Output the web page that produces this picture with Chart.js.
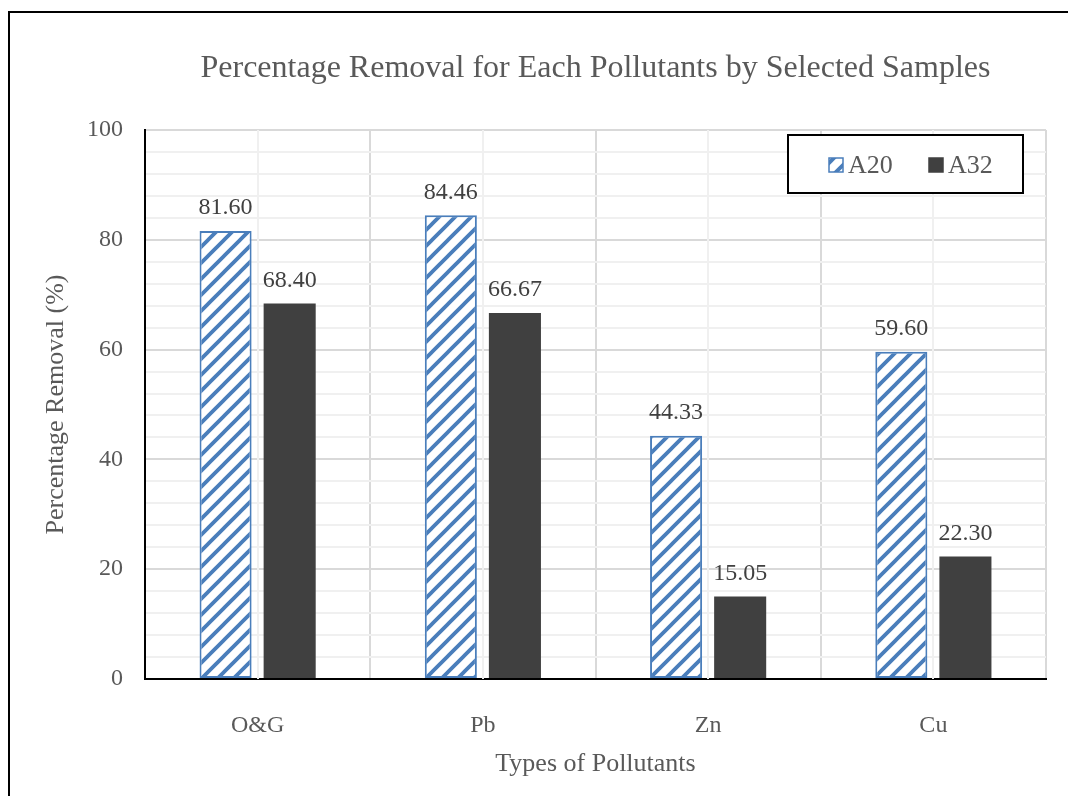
<!DOCTYPE html>
<html>
<head>
<meta charset="utf-8">
<title>Percentage Removal for Each Pollutants by Selected Samples</title>
<script src="https://cdn.jsdelivr.net/npm/chart.js@4/dist/chart.umd.min.js"></script>
<style>
  html, body { margin: 0; padding: 0; background: #ffffff; }
  #wrap { position: relative; width: 1068px; height: 796px; }
</style>
</head>
<body>
<div id="wrap"><canvas id="chart" width="1068" height="796"></canvas></div>
<script>
// Pollutant categories and removal percentages per sample
const categories = ['O&G', 'Pb', 'Zn', 'Cu'];
const seriesNames = ['A20', 'A32'];
const a20Values = [81.60, 84.46, 44.33, 59.60];
const a32Values = [68.40, 66.67, 15.05, 22.30];
const yTickValues = [0, 20, 40, 60, 80, 100];

const chartTitle = 'Percentage Removal for Each Pollutants by Selected Samples';
const xTitle = 'Types of Pollutants';
const yTitle = 'Percentage Removal (%)';

const FONT = '"Liberation Serif", "Times New Roman", serif';
const TEXT = '#595959';
const BLUE = '#4A7EBB';
const DARK = '#404040';

// Upward diagonal hatch used for the A20 bars
function makeHatch() {
  const size = 16;
  const c = document.createElement('canvas');
  c.width = size; c.height = size;
  const g = c.getContext('2d');
  g.fillStyle = '#ffffff';
  g.fillRect(0, 0, size, size);
  g.strokeStyle = BLUE;
  g.lineWidth = 3.8;
  g.lineCap = 'square';
  g.beginPath();
  g.moveTo(-4, size + 4); g.lineTo(size + 4, -4);
  g.moveTo(-4, 4); g.lineTo(4, -4);
  g.moveTo(size - 4, size + 4); g.lineTo(size + 4, size - 4);
  g.stroke();
  return g.createPattern(c, 'repeat');
}
const hatch = makeHatch();

// Frame, title, minor vertical grid, value labels and boxed legend
const decorations = {
  id: 'decorations',
  beforeDraw(chart) {
    const ctx = chart.ctx;
    ctx.save();
    ctx.strokeStyle = '#000000';
    ctx.lineWidth = 2;
    ctx.strokeRect(9, 12, chart.width + 40, chart.height + 40);
    ctx.restore();
  },
  beforeDatasetsDraw(chart) {
    const ctx = chart.ctx;
    const area = chart.chartArea;
    const x = chart.scales.x;
    ctx.save();
    ctx.strokeStyle = '#f0f0f0';
    ctx.lineWidth = 2;
    for (let i = 0; i < categories.length; i++) {
      const px = Math.round(x.getPixelForValue(i));
      ctx.beginPath();
      ctx.moveTo(px, area.top);
      ctx.lineTo(px, area.bottom);
      ctx.stroke();
    }
    ctx.restore();
  },
  afterDatasetsDraw(chart) {
    const ctx = chart.ctx;
    const area = chart.chartArea;
    ctx.save();
    // value labels
    ctx.font = '24px ' + FONT;
    ctx.fillStyle = DARK;
    ctx.textAlign = 'center';
    ctx.textBaseline = 'middle';
    chart.data.datasets.forEach((ds, di) => {
      const meta = chart.getDatasetMeta(di);
      meta.data.forEach((bar, i) => {
        ctx.fillText(ds.data[i].toFixed(2), bar.x, bar.y - 23);
      });
    });
    // title, centred over the plot area
    ctx.font = '32px ' + FONT;
    ctx.fillStyle = TEXT;
    ctx.fillText(chartTitle, (area.left + area.right) / 2, 69);
    // legend box
    const bx = 788, by = 135, bw = 235, bh = 58;
    ctx.fillStyle = '#ffffff';
    ctx.fillRect(bx, by, bw, bh);
    ctx.strokeStyle = '#000000';
    ctx.lineWidth = 2;
    ctx.strokeRect(bx, by, bw, bh);
    ctx.font = '26px ' + FONT;
    ctx.textAlign = 'left';
    const items = [
      { x: 829, fill: hatch, stroke: BLUE },
      { x: 929, fill: DARK, stroke: DARK }
    ];
    items.forEach((it, k) => {
      ctx.fillStyle = it.fill;
      ctx.fillRect(it.x, 158, 14, 14);
      ctx.strokeStyle = it.stroke;
      ctx.lineWidth = 1.5;
      ctx.strokeRect(it.x, 158, 14, 14);
      ctx.fillStyle = TEXT;
      ctx.fillText(chart.data.datasets[k].label, it.x + 19, 166);
    });
    ctx.restore();
  }
};

new Chart(document.getElementById('chart'), {
  type: 'bar',
  data: {
    labels: categories,
    datasets: [
      {
        label: seriesNames[0],
        data: a20Values,
        backgroundColor: hatch,
        borderColor: BLUE,
        borderWidth: 2,
        borderSkipped: false,
        categoryPercentage: 0.569,
        barPercentage: 0.8125
      },
      {
        label: seriesNames[1],
        data: a32Values,
        backgroundColor: DARK,
        borderWidth: 0,
        categoryPercentage: 0.569,
        barPercentage: 0.8125
      }
    ]
  },
  options: {
    responsive: false,
    animation: false,
    devicePixelRatio: 1,
    layout: { padding: { left: 0, right: 22, top: 130, bottom: 0 } },
    plugins: {
      legend: { display: false },
      title: { display: false },
      tooltip: { enabled: false }
    },
    scales: {
      x: {
        grid: {
          offset: true,
          color: '#d9d9d9',
          lineWidth: 2,
          drawTicks: false
        },
        border: { color: '#000000', width: 2 },
        ticks: {
          color: TEXT,
          font: { family: FONT, size: 24 },
          padding: 32
        },
        title: {
          display: true,
          text: xTitle,
          color: TEXT,
          font: { family: FONT, size: 26 },
          padding: { top: 0, bottom: 16 }
        },
        afterFit(scale) { scale.height = 117; }
      },
      y: {
        min: 0,
        max: 100,
        grid: {
          color: (c) => (c.tick && yTickValues.includes(c.tick.value)) ? '#d9d9d9' : '#f0f0f0',
          lineWidth: 2,
          drawTicks: false
        },
        border: { color: '#000000', width: 2 },
        ticks: {
          stepSize: 4,
          color: TEXT,
          font: { family: FONT, size: 24 },
          padding: 22,
          autoSkip: false,
          callback: (v) => yTickValues.includes(v) ? String(v) : ''
        },
        title: {
          display: true,
          text: yTitle,
          color: TEXT,
          font: { family: FONT, size: 26 },
          padding: { top: 41, bottom: 0 }
        },
        afterFit(scale) { scale.width = 145; }
      }
    }
  },
  plugins: [decorations]
});
</script>
</body>
</html>
